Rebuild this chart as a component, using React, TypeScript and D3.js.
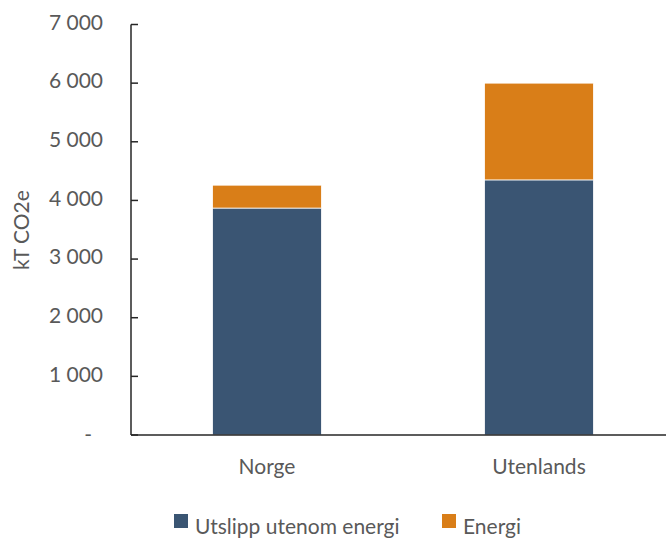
import React from "react";
import * as d3 from "d3";

const categories = ["Norge", "Utenlands"];
const seriesNames = ["Utslipp utenom energi", "Energi"];
const nonEnergy = [3870, 4350];
const energy = [390, 1650];
const yTicks = [0, 1000, 2000, 3000, 4000, 5000, 6000, 7000];
const colors = ["#3A5573", "#D97E18"];

const W = 666;
const H = 539;
const FONT = "Lato, 'Open Sans', sans-serif";
const TEXT = "#595959";

export default function App() {
  const x = d3.scaleBand<string>().domain(categories).range([131, 675]).paddingInner(0.6).paddingOuter(0.3);
  const y = d3.scaleLinear().domain([0, 7000]).range([435, 24.5]);
  const fmt = (v: number) => (v === 0 ? "-" : d3.format(",")(v).replace(/,/g, " "));

  const stacks = categories.map((c, i) => {
    const vals = [nonEnergy[i], energy[i]];
    let acc = 0;
    return vals.map((v, s) => {
      const y0 = acc;
      acc += v;
      return { c, s, y0, y1: acc };
    });
  });

  const legendItems = [
    { name: seriesNames[0], color: colors[0], x: 174 },
    { name: seriesNames[1], color: colors[1], x: 442 },
  ];

  return (
    <svg width={W} height={H} style={{ position: "absolute", left: 0, top: 0, background: "#fff" }} fontFamily={FONT}>
      {stacks.flat().map((d, i) => (
        <rect
          key={i}
          x={x(d.c)!}
          width={x.bandwidth()}
          y={y(d.y1)}
          height={y(d.y0) - y(d.y1)}
          fill={colors[d.s]}
          stroke="#fff"
          strokeWidth={0.75}
        />
      ))}
      {/* y axis */}
      <line x1={131} x2={131} y1={y(7000)} y2={y(0)} stroke="#262626" strokeWidth={1.5} />
      {yTicks.map((t) => (
        <g key={t}>
          <line x1={131} x2={138} y1={y(t)} y2={y(t)} stroke="#262626" strokeWidth={1.5} />
          <text
            x={t === 0 ? 92 : 103}
            y={t === 0 ? y(t) + 2 : y(t)}
            textAnchor="end"
            dominantBaseline="middle"
            fontSize={21}
            fill={TEXT}
          >
            {fmt(t)}
          </text>
        </g>
      ))}
      {/* x axis */}
      <line x1={131} x2={675} y1={y(0)} y2={y(0)} stroke="#262626" strokeWidth={1.5} />
      {categories.map((c) => (
        <text key={c} x={x(c)! + x.bandwidth() / 2} y={474} textAnchor="middle" fontSize={21} fill={TEXT}>
          {c}
        </text>
      ))}
      {/* y label */}
      <text transform="translate(29,230) rotate(-90)" textAnchor="middle" fontSize={21} fill={TEXT}>
        kT CO2e
      </text>
      {/* legend */}
      {legendItems.map((l) => (
        <g key={l.name}>
          <rect x={l.x} y={514} width={14} height={14} fill={l.color} />
          <text x={l.x + 21} y={534} fontSize={21} fill={TEXT}>
            {l.name}
          </text>
        </g>
      ))}
    </svg>
  );
}
